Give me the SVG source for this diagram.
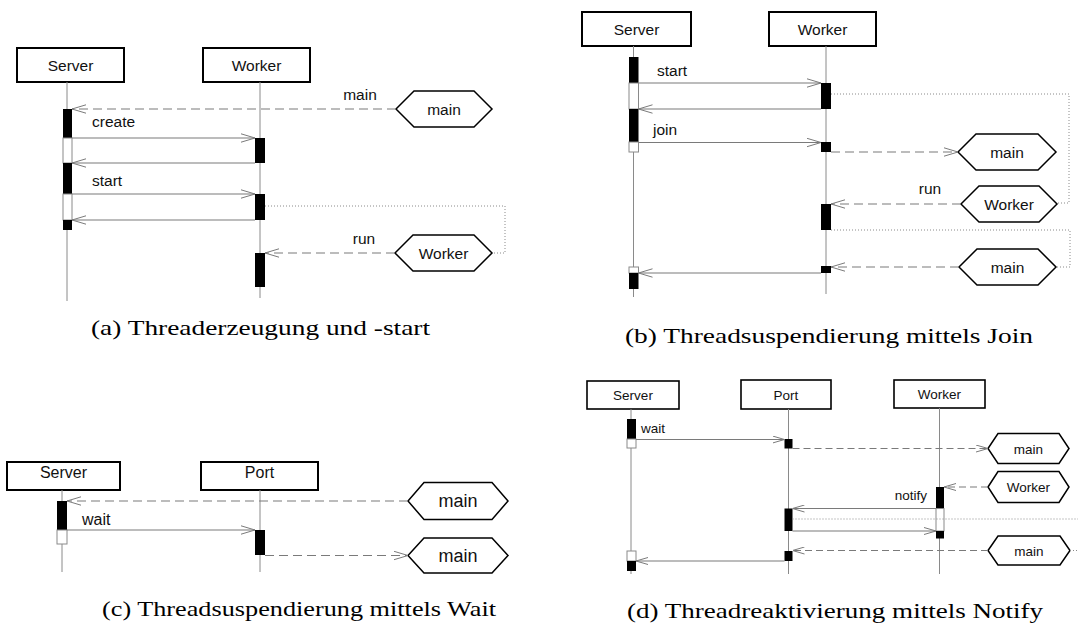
<svg xmlns="http://www.w3.org/2000/svg" width="1078" height="623" viewBox="0 0 1078 623">
<defs>
<marker id="ah" viewBox="0 0 14 10" refX="14" refY="5" markerWidth="14" markerHeight="10" orient="auto" markerUnits="userSpaceOnUse"><path d="M0,0.8 L14,5 L0,9.2" fill="none" stroke="#7a7a7a" stroke-width="1"/></marker>
<marker id="ahs" viewBox="0 0 12 8" refX="12" refY="4" markerWidth="12" markerHeight="8" orient="auto" markerUnits="userSpaceOnUse"><path d="M0,0.5 L12,4 L0,7.5" fill="none" stroke="#7a7a7a" stroke-width="1"/></marker>
</defs>
<style>
.box{fill:#fff;stroke:#000;stroke-width:2}
.boxd{fill:#fff;stroke:#000;stroke-width:1.6}
.hex{fill:#fff;stroke:#000;stroke-width:1.5}
.life{stroke:#8a8a8a;stroke-width:1;fill:none}
.bar{fill:#000}
.wbar{fill:#fff;stroke:#8a8a8a;stroke-width:1}
.msg{stroke:#7a7a7a;stroke-width:1.2;fill:none;marker-end:url(#ah)}
.dsh{stroke:#7a7a7a;stroke-width:1.2;fill:none;stroke-dasharray:9 5;marker-end:url(#ah)}
.dshn{stroke:#7a7a7a;stroke-width:1.2;fill:none;stroke-dasharray:9 5}
.msgs{stroke:#7a7a7a;stroke-width:1.2;fill:none;marker-end:url(#ahs)}
.dshs{stroke:#7a7a7a;stroke-width:1.2;fill:none;stroke-dasharray:7 4;marker-end:url(#ahs)}
.dot{stroke:#8a8a8a;stroke-width:1;fill:none;stroke-dasharray:1 2}
.t{font-family:"Liberation Sans",Arial,sans-serif;font-size:15.5px;fill:#111}
.tc{font-family:"Liberation Sans",Arial,sans-serif;font-size:16px;fill:#111}
.td{font-family:"Liberation Sans",Arial,sans-serif;font-size:13.5px;fill:#111}
.m{text-anchor:middle}
.cap{font-family:"Liberation Serif","Times New Roman",serif;font-size:21px;fill:#000}
</style>

<!-- Panel (a) -->
<g id="a-server">
<rect class="box" x="17" y="48" width="107" height="34"/>
<text class="t m" x="70.5" y="70.5">Server</text>
<line class="life" x1="67" y1="82" x2="67" y2="301"/>
<rect class="bar" x="63" y="109" width="9" height="29"/>
<rect class="wbar" x="63" y="138" width="9" height="25"/>
<rect class="bar" x="63" y="163" width="9" height="31"/>
<rect class="wbar" x="63" y="194" width="9" height="26"/>
<rect class="bar" x="63" y="220" width="9" height="10"/>
</g>
<g id="a-worker">
<rect class="box" x="203" y="48" width="107" height="34"/>
<text class="t m" x="256.5" y="70.5">Worker</text>
<line class="life" x1="260" y1="82" x2="260" y2="298"/>
<rect class="bar" x="255" y="138" width="10" height="25"/>
<rect class="bar" x="255" y="194" width="10" height="26"/>
<rect class="bar" x="255" y="253" width="10" height="34"/>
</g>
<g id="a-main">
<polygon class="hex" points="396,109 414,91 474,91 492,109 474,127 414,127"/>
<text class="t m" x="444" y="114.5">main</text>
</g>
<g id="a-workerthread">
<polygon class="hex" points="395,253 413,235 474,235 492,253 474,271 413,271"/>
<text class="t m" x="443.5" y="258.5">Worker</text>
</g>

<!-- Panel (b) -->
<g id="b-server">
<rect class="box" x="582" y="12" width="109" height="34"/>
<text class="t m" x="636.5" y="34.5">Server</text>
<line class="life" x1="633.5" y1="46" x2="633.5" y2="297"/>
<rect class="bar" x="629" y="57" width="9.5" height="26"/>
<rect class="wbar" x="629" y="83" width="9.5" height="26"/>
<rect class="bar" x="629" y="109" width="9.5" height="33"/>
<rect class="wbar" x="629" y="142" width="9.5" height="10"/>
<rect class="wbar" x="629" y="267" width="9.5" height="6"/>
<rect class="bar" x="629" y="273" width="9.5" height="16"/>
</g>
<g id="b-worker">
<rect class="box" x="769" y="12" width="107" height="34"/>
<text class="t m" x="822.5" y="34.5">Worker</text>
<line class="life" x1="826" y1="46" x2="826" y2="294"/>
<rect class="bar" x="821" y="83" width="10" height="26"/>
<rect class="bar" x="821" y="142" width="10" height="10"/>
<rect class="bar" x="821" y="204" width="10" height="26"/>
<rect class="bar" x="821" y="266" width="10" height="7"/>
</g>
<g id="b-main1">
<polygon class="hex" points="958,152 976,134 1038,134 1056,152 1038,170 976,170"/>
<text class="t m" x="1007" y="157.5">main</text>
</g>
<g id="b-workerthread">
<polygon class="hex" points="961,204 979,186 1039,186 1057,204 1039,222 979,222"/>
<text class="t m" x="1009" y="209.5">Worker</text>
</g>
<g id="b-main2">
<polygon class="hex" points="959,267 977,249 1038,249 1056,267 1038,285 977,285"/>
<text class="t m" x="1007.5" y="272.5">main</text>
</g>

<!-- Panel (c) -->
<g id="c-server">
<rect class="box" x="7" y="462" width="113" height="28"/>
<text class="tc m" x="63.5" y="478">Server</text>
<line class="life" x1="62" y1="490" x2="62" y2="572"/>
<rect class="bar" x="57" y="501" width="10" height="29"/>
<rect class="wbar" x="57" y="530" width="10" height="14"/>
</g>
<g id="c-port">
<rect class="box" x="201" y="462" width="117" height="28"/>
<text class="tc m" x="259.5" y="478">Port</text>
<line class="life" x1="260" y1="490" x2="260" y2="572"/>
<rect class="bar" x="255" y="530" width="10" height="25"/>
</g>
<g id="c-main1">
<polygon class="hex" points="408,501 424,482.5 492,482.5 508,501 492,519.5 424,519.5"/>
<text class="tc m" x="458" y="507" style="font-size:18px">main</text>
</g>
<g id="c-main2">
<polygon class="hex" points="408,555.5 424,538 492,538 508,555.5 492,573 424,573"/>
<text class="tc m" x="458" y="561.5" style="font-size:18px">main</text>
</g>

<!-- Panel (d) -->
<g id="d-server">
<rect class="boxd" x="587" y="381" width="92" height="28"/>
<text class="td m" x="633" y="400">Server</text>
<line class="life" x1="631" y1="409" x2="631" y2="574"/>
<rect class="bar" x="627" y="419" width="9" height="20"/>
<rect class="wbar" x="627" y="439" width="9" height="9"/>
<rect class="wbar" x="627" y="551" width="9" height="10"/>
<rect class="bar" x="627" y="561" width="9" height="10"/>
</g>
<g id="d-port">
<rect class="boxd" x="741" y="380" width="90" height="29"/>
<text class="td m" x="786" y="400">Port</text>
<line class="life" x1="788.5" y1="409" x2="788.5" y2="574"/>
<rect class="bar" x="784.5" y="439" width="8" height="9.5"/>
<rect class="bar" x="784.5" y="508.5" width="8" height="22.5"/>
<rect class="bar" x="784.5" y="551" width="8" height="10"/>
</g>
<g id="d-worker">
<rect class="boxd" x="894" y="380" width="91" height="28"/>
<text class="td m" x="939.5" y="399">Worker</text>
<line class="life" x1="939.5" y1="408" x2="939.5" y2="574"/>
<rect class="bar" x="936" y="487" width="8" height="21.5"/>
<rect class="wbar" x="936" y="508.5" width="8" height="22.5"/>
<rect class="bar" x="936" y="531" width="8" height="7.5"/>
</g>
<g id="d-main1">
<polygon class="hex" points="988,448.5 998,433.5 1059,433.5 1069,448.5 1059,463.5 998,463.5"/>
<text class="td m" x="1028.5" y="453.5">main</text>
</g>
<g id="d-workerthread">
<polygon class="hex" points="988,487 998,471.5 1059,471.5 1069,487 1059,502.5 998,502.5"/>
<text class="td m" x="1028.5" y="492">Worker</text>
</g>
<g id="d-main2">
<polygon class="hex" points="988,550.5 998,536 1060,536 1070,550.5 1060,565 998,565"/>
<text class="td m" x="1029" y="555.5">main</text>
</g>

<!-- Connectors -->
<g id="connectors">
<!-- (a) -->
<line class="dsh" x1="396" y1="109" x2="72" y2="109"/>
<text class="t m" x="360" y="100">main</text>
<line class="msg" x1="72" y1="138" x2="255" y2="138"/>
<text class="t" x="92" y="127">create</text>
<line class="msg" x1="255" y1="163" x2="72" y2="163"/>
<line class="msg" x1="72" y1="194" x2="255" y2="194"/>
<text class="t" x="92" y="186">start</text>
<line class="msg" x1="255" y1="220" x2="72" y2="220"/>
<polyline class="dot" points="265,206 505,206 505,253 492,253"/>
<line class="dsh" x1="395" y1="253" x2="265" y2="253"/>
<text class="t m" x="364" y="244">run</text>
<!-- (b) -->
<line class="msg" x1="638.5" y1="83" x2="821" y2="83"/>
<text class="t" x="657" y="76">start</text>
<line class="msg" x1="821" y1="109" x2="638.5" y2="109"/>
<line class="msg" x1="638.5" y1="142.5" x2="821" y2="142.5"/>
<text class="t" x="653" y="135">join</text>
<line class="dsh" x1="831" y1="152" x2="958" y2="152"/>
<polyline class="dot" points="831,94 1069,94 1069,203 1057,203"/>
<line class="dsh" x1="961" y1="204" x2="831" y2="204"/>
<text class="t m" x="930" y="194">run</text>
<polyline class="dot" points="831,230 1070,230 1070,267 1056,267"/>
<line class="dsh" x1="959" y1="267" x2="831" y2="267"/>
<line class="msg" x1="821" y1="273" x2="638.5" y2="273"/>
<!-- (c) -->
<line class="dsh" x1="408" y1="501" x2="67" y2="501"/>
<line class="msg" x1="67" y1="530" x2="255" y2="530"/>
<text class="tc" x="82" y="525">wait</text>
<line class="dsh" x1="265" y1="555.5" x2="408" y2="555.5"/>
<!-- (d) -->
<line class="msgs" x1="636" y1="439.5" x2="784.5" y2="439.5"/>
<text class="td" x="641" y="433">wait</text>
<line class="dshs" x1="792.5" y1="448.5" x2="988" y2="448.5"/>
<line class="dshs" x1="988" y1="487" x2="944" y2="487"/>
<line class="msgs" x1="936" y1="508.5" x2="792.5" y2="508.5"/>
<text class="td" x="927" y="500" text-anchor="end">notify</text>
<line class="dot" x1="792.5" y1="519" x2="1078" y2="519"/>
<line class="msgs" x1="792.5" y1="531" x2="936" y2="531"/>
<line class="dshs" x1="988" y1="550.5" x2="792.5" y2="550.5"/>
<line class="dot" x1="1070" y1="550.5" x2="1078" y2="550.5"/>
<line class="msgs" x1="784.5" y1="561" x2="636" y2="561"/>
</g>

<!-- Captions -->
<text class="cap" x="91" y="335" textLength="339" lengthAdjust="spacingAndGlyphs">(a) Threaderzeugung und -start</text>
<text class="cap" x="625" y="343" textLength="408" lengthAdjust="spacingAndGlyphs">(b) Threadsuspendierung mittels Join</text>
<text class="cap" x="102" y="616" textLength="394" lengthAdjust="spacingAndGlyphs">(c) Threadsuspendierung mittels Wait</text>
<text class="cap" x="627" y="618" textLength="416" lengthAdjust="spacingAndGlyphs">(d) Threadreaktivierung mittels Notify</text>
</svg>
